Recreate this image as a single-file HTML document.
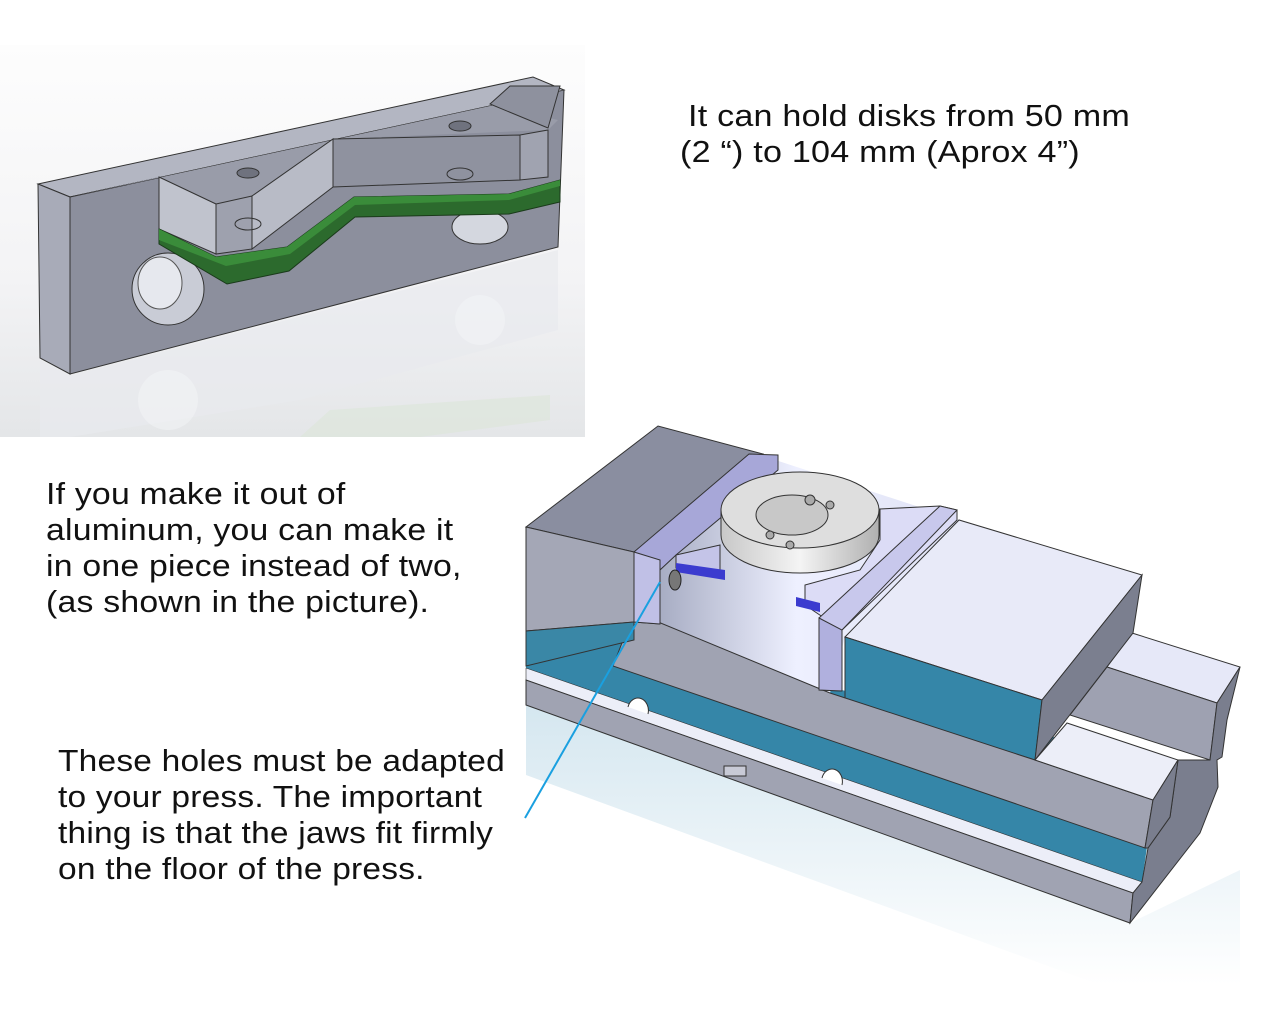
<!DOCTYPE html>
<html><head><meta charset="utf-8">
<style>
html,body{margin:0;padding:0;background:#fff;}
body{width:1280px;height:1024px;position:relative;overflow:hidden;font-family:"Liberation Sans",sans-serif;color:#111;}
.t{position:absolute;font-size:31px;line-height:36px;white-space:nowrap;letter-spacing:0.2px;transform-origin:0 0;}
svg{position:absolute;left:0;top:0;}
</style></head><body>
<svg width="1280" height="1024" viewBox="0 0 1280 1024">
<defs>
<linearGradient id="bg1" x1="0" y1="0" x2="0" y2="1">
<stop offset="0" stop-color="#fdfdfd"/><stop offset="0.6" stop-color="#f3f3f5"/><stop offset="1" stop-color="#e4e6e8"/></linearGradient>
<linearGradient id="refl" x1="0" y1="0" x2="0" y2="1">
<stop offset="0" stop-color="#d0e4ee"/><stop offset="1" stop-color="#ffffff"/></linearGradient>
<linearGradient id="chan" x1="0" y1="0" x2="1" y2="0">
<stop offset="0" stop-color="#9aa0b8"/><stop offset="0.5" stop-color="#eef0ff"/><stop offset="1" stop-color="#dfe2f4"/></linearGradient>
<linearGradient id="disk" x1="0" y1="0" x2="1" y2="0">
<stop offset="0" stop-color="#c8c8c8"/><stop offset="0.5" stop-color="#f4f4f4"/><stop offset="1" stop-color="#b0b0b0"/></linearGradient>
</defs>
<!-- top-left panel -->
<rect x="0" y="45" width="585" height="392" fill="url(#bg1)"/>
<polygon points="40,360 70,376 558,250 558,330 300,400 70,437 40,437" fill="#e8eaee" opacity="0.7"/>
<polygon points="330,410 550,395 550,420 420,437 300,437" fill="#dce6d8" opacity="0.6"/>
<ellipse cx="168" cy="400" rx="30" ry="30" fill="#f4f5f7" opacity="0.5"/>
<ellipse cx="480" cy="320" rx="25" ry="25" fill="#f4f5f7" opacity="0.5"/>
<!-- plate -->
<polygon points="38,184 533,77 564,90 70,197" fill="#b3b6c2" stroke="#333" stroke-width="1"/>
<polygon points="70,197 564,90 558,247 70,374" fill="#8c8f9d" stroke="#333" stroke-width="1"/>
<polygon points="38,184 70,197 70,374 40,358" fill="#a8abb8" stroke="#333" stroke-width="1"/>
<polygon points="70,197 159,177 216,204 252,196 333,139 548,130 558,120 490,104 533,93 564,90 " fill="#999ca9"/>
<polygon points="490,104 510,86 560,86 548,128" fill="#8e919e" stroke="#333"/>
<!-- holes -->
<ellipse cx="168" cy="289" rx="36" ry="36" fill="#c9ccd6" stroke="#333"/>
<ellipse cx="160" cy="283" rx="22" ry="26" fill="#e6e8ee" stroke="#555"/>
<ellipse cx="480" cy="227" rx="28" ry="17" fill="#d4d7df" stroke="#333"/>
<!-- raised block -->
<polygon points="159,177 216,204 216,254 159,229" fill="#c0c3cd" stroke="#333"/>
<polygon points="216,204 252,196 252,249 216,254" fill="#9ea1ae" stroke="#333"/>
<polygon points="252,196 333,139 333,187 252,249" fill="#b8bbc6" stroke="#333"/>
<polygon points="333,139 520,135 520,180 333,187" fill="#8f929f" stroke="#333"/>
<polygon points="520,135 548,130 548,177 520,180" fill="#a0a3b0" stroke="#333"/>
<ellipse cx="248" cy="173" rx="11" ry="5" fill="#6f727e" stroke="#333"/>
<ellipse cx="460" cy="126" rx="11" ry="5" fill="#6f727e" stroke="#333"/>
<ellipse cx="248" cy="224" rx="13" ry="6" fill="none" stroke="#333"/>
<ellipse cx="460" cy="174" rx="13" ry="6" fill="none" stroke="#333"/>
<!-- green strip -->
<polygon points="159,229 216,257 287,247 354,197 509,194 560,180 560,202 509,214 355,217 289,271 227,284 159,244" fill="#2c6a2d" stroke="#1a3a1a"/>
<polygon points="159,229 216,257 287,247 354,197 509,194 560,180 560,186 509,200 355,205 290,254 226,266 159,240" fill="#3a8c3a"/>

<!-- vise reflection -->
<polygon points="526,705 1130,923 1240,870 1240,985 1100,985 526,775" fill="url(#refl)" opacity="0.9"/>
<!-- lower blue -->
<polygon points="526,620 1180,765 1148,840 1142,882 526,672" fill="#3586a8"/>
<!-- back rail -->
<polygon points="1132,633 1240,667 1217,703 1107,667" fill="#e6e8f8" stroke="#333"/>
<polygon points="1107,667 1217,703 1210,760 1070,715" fill="#9ea1b1" stroke="#333"/>
<!-- channel floor -->
<polygon points="634,552 760,455 959,520 845,637 830,693 634,612" fill="url(#chan)"/>
<!-- right block -->
<polygon points="845,637 959,520 1142,575 1042,700" fill="#e8eaf8" stroke="#333"/>
<polygon points="845,637 1042,700 1035,760 845,700" fill="#3586a8" stroke="#333"/>
<polygon points="1142,575 1133,633 1035,760 1042,700" fill="#7b7f8f" stroke="#333"/>
<!-- base -->
<polygon points="526,668 1142,882 1133,893 526,680" fill="#eceef8" stroke="#333" stroke-width="0.6"/>
<polygon points="526,680 1133,893 1130,923 526,705" fill="#a0a3b2" stroke="#333"/>
<path d="M628,707 a10,12 0 0 1 20,7" fill="#fff" stroke="#333"/>
<path d="M822,778 a10,12 0 0 1 20,7" fill="#fff" stroke="#333"/>
<rect x="724" y="766" width="22" height="10" fill="#c8cad6" stroke="#333"/>
<!-- bar -->
<polygon points="634,612 830,693 1035,760 1153,800 1145,848 613,666" fill="#a0a3b2" stroke="#333"/>
<polygon points="1035,760 1067,723 1178,760 1153,800" fill="#eceef8" stroke="#333"/>
<!-- right end dark -->
<polygon points="1240,667 1227,720 1222,757 1217,760 1218,787 1200,833 1130,923 1133,893 1142,882 1148,848 1170,817 1178,760 1210,760 1217,703" fill="#7a7e8e" stroke="#333"/>
<polygon points="1153,800 1178,760 1170,817 1148,848 1145,848" fill="#7a7e8e" stroke="#333"/>
<!-- left block -->
<polygon points="526,527 658,426 763,454 634,552" fill="#8a8ea0" stroke="#333"/>
<polygon points="526,527 634,552 634,622 526,631" fill="#a4a7b6" stroke="#333"/>
<polygon points="526,631 634,622 634,640 526,666" fill="#3a87a6" stroke="#333"/>
<!-- left plate -->
<polygon points="634,552 749,454 778,455 778,470 676,555 660,570 660,624 634,622" fill="#a7a7d8" stroke="#333"/>
<polygon points="634,552 660,560 660,624 634,622" fill="#c0c0e6" stroke="#333"/>
<polygon points="676,555 720,545 720,575 676,568" fill="#c4c4e8" stroke="#333"/>
<polygon points="676,563 725,570 725,580 676,572" fill="#3b3bcf"/>
<ellipse cx="675" cy="580" rx="6" ry="10" fill="#777" stroke="#222"/>
<!-- disk -->
<path d="M721,510 L721,535 A79,38 0 0 0 879,535 L879,510 Z" fill="url(#disk)" stroke="#333"/>
<ellipse cx="800" cy="510" rx="79" ry="38" fill="#dedede" stroke="#333"/>
<ellipse cx="792" cy="515" rx="36" ry="20" fill="#c8c8c8" stroke="#333"/>
<circle cx="810" cy="500" r="5" fill="#aaa" stroke="#333"/>
<circle cx="830" cy="505" r="4" fill="#aaa" stroke="#333"/>
<circle cx="770" cy="535" r="4" fill="#aaa" stroke="#333"/>
<circle cx="790" cy="545" r="4" fill="#aaa" stroke="#333"/>
<!-- right plate -->
<polygon points="880,509 940,506 957,510 957,520 842,630 805,605 805,585 860,570 880,540" fill="#dcdcf6" stroke="#333"/>
<polygon points="819,618 940,506 957,510 842,630 842,691 819,690" fill="#c8c8ec" stroke="#333"/>
<polygon points="819,618 842,630 842,691 819,690" fill="#b0b0de" stroke="#333"/>
<polygon points="796,597 820,603 820,612 796,606" fill="#3b3bcf"/>
<!-- callout -->
<line x1="525" y1="818" x2="660" y2="582" stroke="#1aa0e0" stroke-width="2"/>
</svg>
<div class="t" style="left:688px;top:98px;transform:scaleX(1.1);">It can hold disks from 50 mm</div>
<div class="t" style="left:680px;top:134px;transform:scaleX(1.1);">(2 “) to 104 mm (Aprox 4”)</div>
<div class="t" style="left:46px;top:476px;transform:scaleX(1.09);">If you make it out of<br>aluminum, you can make it<br>in one piece instead of two,<br>(as shown in the picture).</div>
<div class="t" style="left:58px;top:743px;transform:scaleX(1.08);">These holes must be adapted<br>to your press. The important<br>thing is that the jaws fit firmly<br>on the floor of the press.</div>
</body></html>
